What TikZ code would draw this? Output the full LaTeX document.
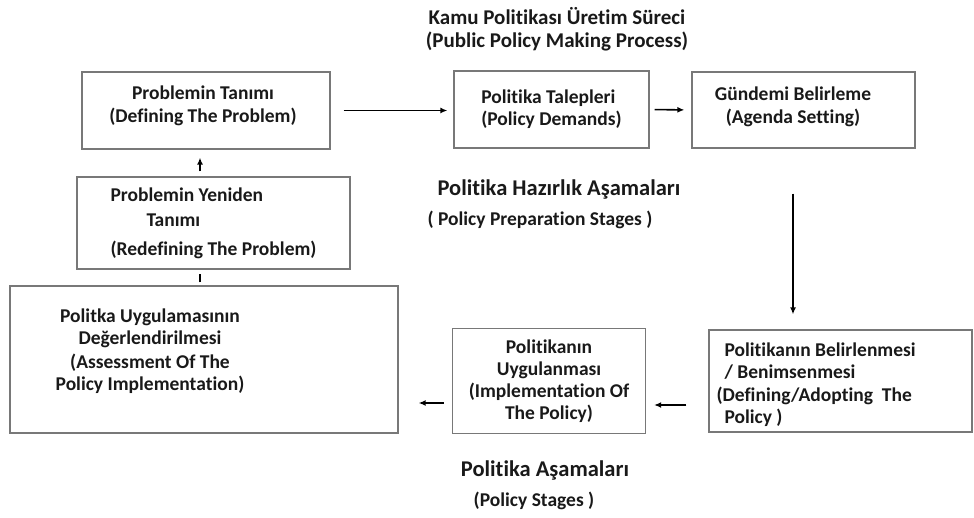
\documentclass[tikz,border=0pt]{standalone}
\usepackage{fontspec}
\setmainfont{Carlito}[Ligatures=NoCommon]
\usetikzlibrary{arrows.meta,positioning}
\definecolor{boxgray}{RGB}{120,120,120}
\definecolor{inkdark}{RGB}{25,25,25}

\begin{document}
\begin{tikzpicture}[x=1pt,y=-1pt,
        box/.style={rectangle,draw=boxgray,line width=1.3pt,align=center,text=inkdark,
          font=\fontsize{19.5}{22}\selectfont\bfseries},
        boxtext/.style={align=center,text=inkdark,font=\fontsize{19.5}{22.5}\selectfont\bfseries},
        heading/.style={text=inkdark,align=center,font=\fontsize{21}{23}\selectfont\bfseries},
        stagehead/.style={text=inkdark,font=\fontsize{22.5}{24}\selectfont\bfseries},
        stagesub/.style={text=inkdark,font=\fontsize{19.5}{22}\selectfont\bfseries},
        arrow/.style={-{Latex[length=7pt,width=6pt]},line width=1.6pt}]
        \useasboundingbox (0,0) rectangle (974,518);
        % top row
        \node[box,minimum width=248,minimum height=77] (define) at (206,110.5) {};
        \node[boxtext] (definetext) at (203,106) {Problemin Tanımı\\(Defining The Problem)};
        \node[box,align=left,minimum width=195,minimum height=77] (demand) at (551.5,109.5) {Politika Talepleri\\(Policy Demands)};
        \node[box,minimum width=223,minimum height=76] (agenda) at (803.5,110) {};
        \node[boxtext] (agendatext) at (793,107) {Gündemi Belirleme\\(Agenda Setting)};
        \node[heading] (title) at (557,29) {Kamu Politikası Üretim Süreci\\(Public Policy Making Process)};
        \node[stagehead] (prep) at (559,189) {Politika Hazırlık Aşamaları};
        \node[stagesub] (prepen) at (540,220) {( Policy Preparation Stages )};
        % left column
        \node[box,align=left,minimum width=273,minimum height=92] (redefine) at (213.5,223) {Problemin Yeniden\\[3pt]\hspace*{36pt}Tanımı\\[7pt](Redefining The Problem)};
        \node[box,minimum width=388,minimum height=147] (assess) at (204,359.5) {};
        \node[boxtext] (assesstext) at (150,351) {Politka Uygulamasının\\Değerlendirilmesi\\[1pt](Assessment Of The\\Policy Implementation)};
        % bottom row
        \node[box,minimum width=193,minimum height=105] (apply) at (549,381) {Politikanın\\Uygulanması\\(Implementation Of\\The Policy)};
        \node[box,minimum width=263,minimum height=102] (adopt) at (840.5,381) {};
        \node[boxtext,align=left,anchor=west] (adopttext) at (713,384.5) {\hspace*{8pt}Politikanın Belirlenmesi\\\hspace*{8pt}/ Benimsenmesi\\(Defining/Adopting\ \ The\\\hspace*{8pt}Policy )};
        \node[stagehead] (stages) at (545,470) {Politika Aşamaları};
        \node[stagesub] (stagesen) at (534,501) {(Policy Stages )};
        % connectors
        \coordinate (up) at (200,0);
        \coordinate (down) at (793,0);
        \coordinate (lowa) at (0,405);
        \coordinate (lowb) at (0,403);
        \draw[arrow,shorten <=13pt,shorten >=6pt] (define.east) -- (define.east -| demand.west);
        \draw[arrow,shorten <=5pt,shorten >=7pt] (demand.east) -- (agenda.west);
        \draw[arrow,shorten <=45pt,shorten >=15pt] (agenda.south -| down) -- (adopt.north -| down);
        \draw[arrow,shorten <=22pt,shorten >=8pt] (adopt.west |- lowa) -- (apply.east |- lowa);
        \draw[arrow,shorten <=8pt,shorten >=20pt] (apply.west |- lowb) -- (assess.east |- lowb);
        \draw[arrow,shorten <=5pt,shorten >=8pt] (redefine.north -| up) -- (define.south -| up);
        \draw[line width=1.6pt,shorten <=3pt,shorten >=4pt] (assess.north -| up) -- (redefine.south -| up);
\end{tikzpicture}
\end{document}
